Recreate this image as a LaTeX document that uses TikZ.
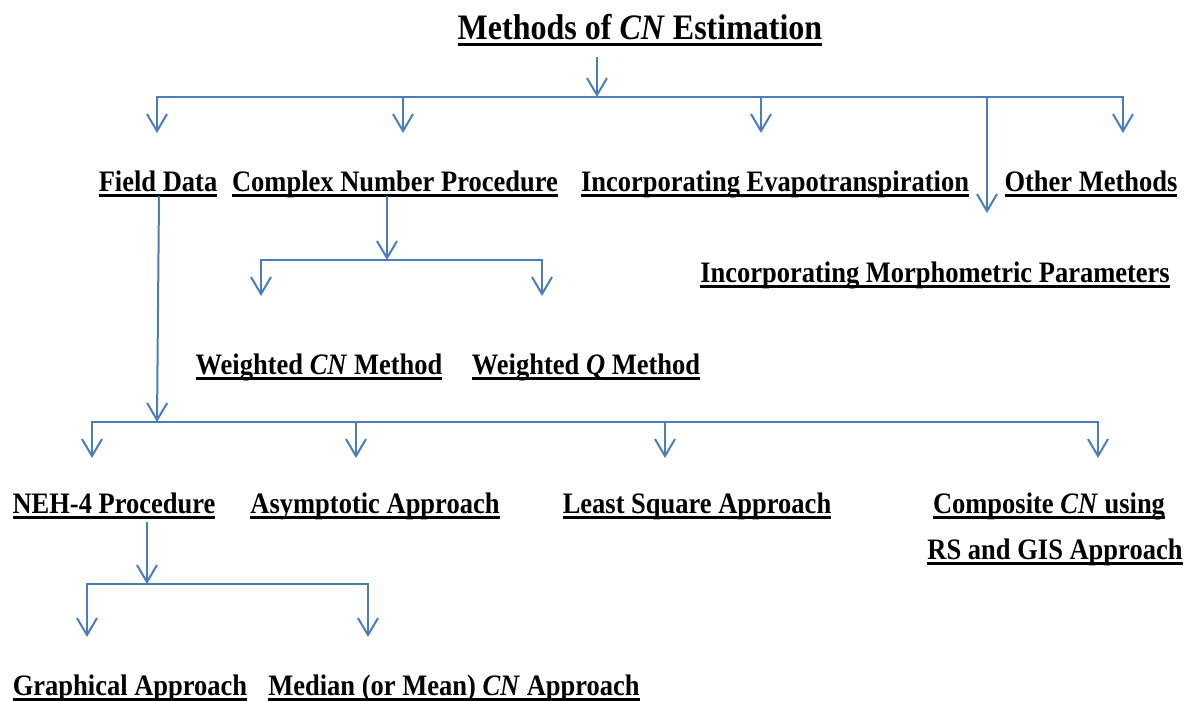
\documentclass[tikz,border=0pt]{standalone}
\usepackage{graphicx}
\usepackage{fontspec}
\setmainfont{Liberation Serif}
\usepackage{tikz}
\usetikzlibrary{arrows.meta}

\definecolor{linkblue}{RGB}{74,126,187}
\newcommand{\uln}[1]{\setbox0\hbox{#1}\rlap{\rule[-5pt]{\wd0}{2pt}}\box0}
\newcommand{\lbl}[1]{\scalebox{1}[1.12]{\uln{#1}}}

\tikzset{
  meth/.style={anchor=base, inner sep=0pt, font=\bfseries\fontsize{26.5}{30}\selectfont},
  head/.style={meth, font=\bfseries\fontsize{32}{36}\selectfont},
  link/.style={draw=linkblue, line width=2pt, line cap=rect},
  arr/.style={link, -{Straight Barb[length=17pt,width=20pt,line width=2pt]}},
}

\begin{document}
\begin{tikzpicture}[x=1pt,y=-1pt]
\useasboundingbox (0,0) rectangle (1191,701);

\node[head] (title) at (640,40) {\lbl{Methods of \textit{CN} Estimation}};

\node[meth] (fd)  at (158,191) {\lbl{Field Data}};
\node[meth] (cnp) at (395,191) {\lbl{Complex Number Procedure}};
\node[meth] (iet) at (775,191) {\lbl{Incorporating Evapotranspiration}};
\node[meth] (om)  at (1091,191) {\lbl{Other Methods}};
\node[meth] (imp) at (935,282) {\lbl{Incorporating Morphometric Parameters}};

\node[meth] (wcn) at (319,374) {\lbl{Weighted \textit{CN} Method}};
\node[meth] (wq)  at (586,374) {\lbl{Weighted \textit{Q} Method}};

\node[meth] (neh)  at (114,513) {\lbl{NEH-4 Procedure}};
\node[meth] (asy)  at (375,513) {\lbl{Asymptotic Approach}};
\node[meth] (lsa)  at (697,513) {\lbl{Least Square Approach}};
\node[meth] (comp) at (1049,513) {\lbl{Composite \textit{CN} using}};
\node[meth] (gis)  at (1055,559) {\lbl{RS and GIS Approach}};

\node[meth] (gra) at (130,695) {\lbl{Graphical Approach}};
\node[meth] (med) at (454,695) {\lbl{Median (or Mean) \textit{CN} Approach}};

% first level
\coordinate (title-out) at (597,58);
\coordinate (j0) at (597,97);
\draw[arr] (title-out) -- (j0);
\foreach \n/\x/\y in {fd/157/133, cnp/403/133, iet/761/133, imp/987/213, om/1123/133}{
  \coordinate (\n-bus) at (\x,97);
  \coordinate (\n-in) at (\x,\y);
  \draw[arr] (\n-bus) -- (\n-in);
}
\draw[link] (fd-bus) -- (om-bus);

% complex number procedure
\coordinate (cnp-out) at (387,197);
\coordinate (j1) at (387,260);
\draw[arr] (cnp-out) -- (j1);
\foreach \n/\x in {wcn/261, wq/542}{
  \coordinate (\n-bus) at (\x,260);
  \coordinate (\n-in) at (\x,296);
  \draw[arr] (\n-bus) -- (\n-in);
}
\draw[link] (wcn-bus) -- (wq-bus);

% field data
\coordinate (fd-out) at (159,197);
\coordinate (j2) at (157,422);
\draw[arr] (fd-out) -- (j2);
\foreach \n/\x in {neh/92, asy/356, lsa/665, comp/1098}{
  \coordinate (\n-bus) at (\x,422);
  \coordinate (\n-in) at (\x,458);
  \draw[arr] (\n-bus) -- (\n-in);
}
\draw[link] (neh-bus) -- (comp-bus);

% NEH-4
\coordinate (neh-out) at (147,523);
\coordinate (j3) at (147,584);
\draw[arr] (neh-out) -- (j3);
\foreach \n/\x in {gra/87, med/368}{
  \coordinate (\n-bus) at (\x,584);
  \coordinate (\n-in) at (\x,637);
  \draw[arr] (\n-bus) -- (\n-in);
}
\draw[link] (gra-bus) -- (med-bus);
\end{tikzpicture}
\end{document}
